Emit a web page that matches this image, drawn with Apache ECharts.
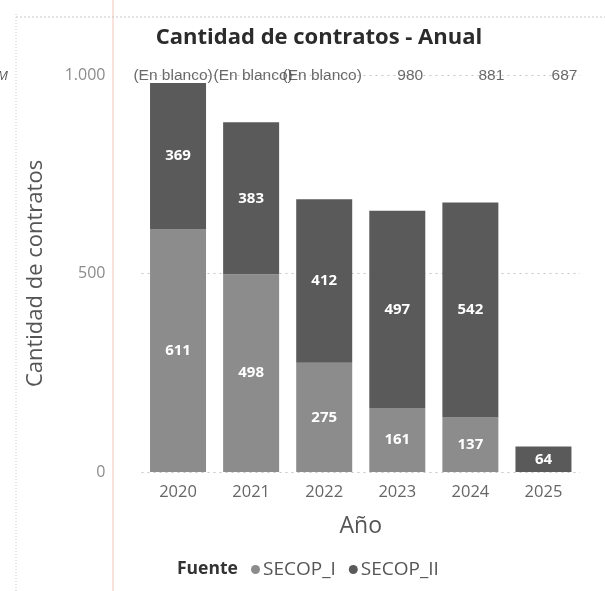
<!DOCTYPE html>
<html>
<head>
<meta charset="utf-8">
<script src="https://cdn.jsdelivr.net/npm/echarts@6/dist/echarts.min.js"></script>
<style>
html,body{margin:0;padding:0;background:#fff;}
#main{width:605px;height:591px;}
</style>
</head>
<body>
<div id="main"></div>
<script>
const years = ['2020','2021','2022','2023','2024','2025'];
const secopI = [611, 498, 275, 161, 137, null];
const secopII = [369, 383, 412, 497, 542, 64];
const topLabels = ['(En blanco)','(En blanco)','(En blanco)','980','881','687'];
const yTicks = [0, 500, 1000];
const yMax = 1000;

const topOffsets = [-5, 2, -2, 13, 21, 21];

const chart = echarts.init(document.getElementById('main'));
chart.setOption({
  animation: false,
  backgroundColor: '#ffffff',
  title: {
    text: 'Cantidad de contratos - Anual',
    left: 314, top: 22, textAlign: 'center',
    textStyle: {fontFamily: 'Open Sans', fontWeight: 'bold', fontSize: 22, color: '#2b2b2b'}
  },
  grid: {left: 141.5, right: 25, top: 75, bottom: 119},
  legend: {
    data: ['SECOP_I', 'SECOP_II'],
    left: 246, top: 555,
    icon: 'circle', itemWidth: 9, itemHeight: 9, itemGap: 13,
    textStyle: {fontFamily: 'Open Sans', fontSize: 19, color: '#555', padding: [0,0,0,-2]}
  },
  xAxis: {
    type: 'category', data: years,
    axisLine: {show: false}, axisTick: {show: false},
    axisLabel: {fontFamily: 'Open Sans', fontSize: 16.5, color: '#666', margin: 12},
    name: 'Año', nameLocation: 'middle', nameGap: 43,
    nameTextStyle: {fontFamily: 'Open Sans', fontSize: 23, color: '#555'}
  },
  yAxis: {
    type: 'value', min: yTicks[0], max: yMax, interval: yTicks[1] - yTicks[0],
    axisLine: {show: false}, axisTick: {show: false},
    splitLine: {lineStyle: {type: [2, 4], color: '#c4c4c4', width: 1}},
    axisLabel: {fontFamily: 'Open Sans', fontSize: 16, color: '#8c8c8c', margin: 36,
      formatter: v => v >= 1000 ? (v/1000) + '.' + String(v%1000).padStart(3,'0') : String(v)},
    name: 'Cantidad de contratos', nameLocation: 'middle', nameGap: 95, nameRotate: 90,
    nameTextStyle: {fontFamily: 'Open Sans', fontSize: 22, color: '#555'}
  },
  series: [
    {
      name: 'SECOP_I', type: 'bar', stack: 'total', data: secopI, barWidth: 56,
      itemStyle: {color: '#8c8c8c'},
      label: {show: true, position: 'inside', color: '#fff', fontFamily: 'Open Sans', fontWeight: 'bold', fontSize: 15}
    },
    {
      name: 'SECOP_II', type: 'bar', stack: 'total', data: secopII, barWidth: 56,
      itemStyle: {color: '#5a5a5a'},
      label: {show: true, position: 'inside', color: '#fff', fontFamily: 'Open Sans', fontWeight: 'bold', fontSize: 15}
    },
    {
      name: 'top', type: 'scatter', symbolSize: 0, silent: true,
      data: topLabels.map((t, i) => ({
        value: yMax,
        label: {show: true, position: 'inside', formatter: t, offset: [topOffsets[i], 1],
          fontFamily: 'Liberation Sans', fontSize: 15.5, color: '#444'}
      }))
    }
  ],
  graphic: [
    {type: 'text', left: 177, top: 560, style: {text: 'Fuente', fontFamily: 'Open Sans', fontWeight: 'bold', fontSize: 17.5, fill: '#333'}},
    {type: 'line', shape: {x1: 113, y1: 0, x2: 113, y2: 591}, style: {stroke: '#f6d8cc', lineWidth: 1.5}},
    {type: 'line', shape: {x1: 16, y1: 14, x2: 16, y2: 591}, style: {stroke: '#c8c8c8', lineWidth: 1, lineDash: [1, 2]}},
    {type: 'line', shape: {x1: 16, y1: 17, x2: 605, y2: 17}, style: {stroke: '#c8c8c8', lineWidth: 1, lineDash: [2, 2]}},
    {type: 'text', left: -3, top: 70, style: {text: 'M', fontFamily: 'Open Sans', fontSize: 13, fill: '#555', fontStyle: 'italic'}}
  ]
});
</script>
</body>
</html>
